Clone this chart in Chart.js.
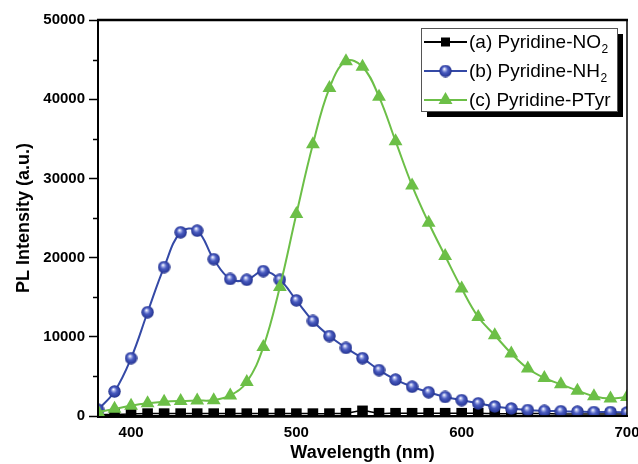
<!DOCTYPE html>
<html>
<head>
<meta charset="utf-8">
<script src="https://cdn.jsdelivr.net/npm/chart.js@4"></script>
<style>
  html, body { margin: 0; padding: 0; background: #fff; }
  #wrap { width: 638px; height: 464px; position: relative; }
</style>
</head>
<body>
<div id="wrap"><canvas id="c" width="638" height="464"></canvas></div>
<script>
// ---- data ----
const wavelengths = [380,390,400,410,420,430,440,450,460,470,480,490,500,510,520,530,540,550,560,570,580,590,600,610,620,630,640,650,660,670,680,690,700];
const pyridineNO2 = [150,200,250,300,300,300,300,300,300,300,300,300,300,300,300,350,650,350,350,350,350,350,350,350,300,300,300,300,250,250,250,250,250];
const pyridineNH2 = [800,3100,7300,13100,18800,23200,23400,19800,17300,17200,18300,17200,14600,12000,10100,8600,7300,5800,4600,3700,3000,2400,2000,1600,1200,950,750,650,600,550,500,500,450];
const pyridinePTyr = [500,900,1300,1600,1800,1900,1950,2000,2600,4300,8700,16300,25500,34300,41400,44800,44100,40300,34700,29100,24400,20200,16100,12500,10200,7900,6000,4800,4000,3200,2500,2200,2400];
const xTickValues = [400,500,600,700];
const yTickValues = [0,10000,20000,30000,40000,50000];
const yMinorValues = [5000,15000,25000,35000,45000];
const legendMain = ['(a) Pyridine-NO', '(b) Pyridine-NH', '(c) Pyridine-PTyr'];
const legendSub = ['2', '2', ''];
const xTitle = 'Wavelength (nm)';
const yTitle = 'PL Intensity (a.u.)';

const FONT = "'Liberation Sans', Arial, sans-serif";
const BLUE = '#3449a6';
const GREEN = '#6cbf47';

function toPoints(ys) { return wavelengths.map((w, i) => ({x: w, y: ys[i]})); }

// shaded sphere marker
function makeSphere(d) {
  const c = document.createElement('canvas');
  c.width = d; c.height = d;
  const g = c.getContext('2d');
  const r = d / 2;
  const grad = g.createRadialGradient(r - 1.2, r - 2.2, 0.3, r, r, r);
  grad.addColorStop(0, '#ffffff');
  grad.addColorStop(0.18, '#aab4ea');
  grad.addColorStop(0.45, '#4a5cc0');
  grad.addColorStop(0.85, '#2b3b9c');
  grad.addColorStop(1, '#1f2c80');
  g.fillStyle = grad;
  g.beginPath(); g.arc(r, r, r - 0.3, 0, Math.PI * 2); g.fill();
  return c;
}
const sphere = makeSphere(13);

const framePlugin = {
  id: 'frame',
  afterDatasetsDraw(chart) {
    const {ctx, chartArea: a} = chart;
    ctx.save();
    ctx.strokeStyle = '#000';
    ctx.lineWidth = 2.5;
    ctx.beginPath(); ctx.moveTo(a.left - 1, a.top); ctx.lineTo(a.right + 1, a.top); ctx.stroke();
    ctx.lineWidth = 2;
    ctx.beginPath(); ctx.moveTo(a.left, a.top); ctx.lineTo(a.left, a.bottom + 1); ctx.lineTo(a.right + 1, a.bottom); ctx.stroke();
    ctx.lineWidth = 1.5;
    ctx.beginPath(); ctx.moveTo(a.right, a.top); ctx.lineTo(a.right, a.bottom); ctx.stroke();
    // minor y ticks
    const ys = chart.scales.y;
    ctx.lineWidth = 1.5;
    yMinorValues.forEach(v => {
      const py = Math.round(ys.getPixelForValue(v)) + 0.5;
      ctx.beginPath(); ctx.moveTo(a.left - 5, py); ctx.lineTo(a.left, py); ctx.stroke();
    });
    ctx.restore();
  }
};

const legendPlugin = {
  id: 'customLegend',
  afterDraw(chart) {
    const {ctx} = chart;
    const L = 421, T = 28, W = 196, H = 83;
    ctx.save();
    ctx.fillStyle = '#000';
    ctx.fillRect(L + 6, T + 6, W, H);
    ctx.fillStyle = '#fff';
    ctx.fillRect(L, T, W, H);
    ctx.strokeStyle = '#555';
    ctx.lineWidth = 1;
    ctx.strokeRect(L + 0.5, T + 0.5, W, H);
    const rows = [42, 71, 100];
    const colors = ['#000', BLUE, GREEN];
    rows.forEach((ry, i) => {
      ctx.strokeStyle = colors[i];
      ctx.lineWidth = 2;
      ctx.beginPath(); ctx.moveTo(424, ry); ctx.lineTo(467, ry); ctx.stroke();
      const mx = 445.5;
      if (i === 0) {
        ctx.fillStyle = '#000';
        ctx.fillRect(mx - 4.5, ry - 4.5, 9, 9);
      } else if (i === 1) {
        ctx.drawImage(sphere, mx - 6.5, ry - 6.5);
      } else {
        ctx.fillStyle = GREEN;
        ctx.beginPath();
        ctx.moveTo(mx, ry - 8); ctx.lineTo(mx + 7, ry + 4); ctx.lineTo(mx - 7, ry + 4); ctx.closePath();
        ctx.fill();
      }
      ctx.fillStyle = '#000';
      ctx.font = '19px ' + FONT;
      ctx.textBaseline = 'middle';
      ctx.textAlign = 'left';
      ctx.fillText(legendMain[i], 469, ry + 1);
      const w = ctx.measureText(legendMain[i]).width;
      if (legendSub[i]) {
        ctx.font = '12px ' + FONT;
        ctx.fillText(legendSub[i], 469 + w + 0.5, ry + 8);
      }
    });
    ctx.restore();
  }
};

new Chart(document.getElementById('c'), {
  type: 'line',
  data: {
    datasets: [
      {
        label: legendMain[0] + legendSub[0],
        data: toPoints(pyridineNO2),
        borderColor: '#000', backgroundColor: '#000',
        borderWidth: 1.5,
        pointStyle: 'rect', pointRadius: 7.5, pointBorderWidth: 0,
        pointBackgroundColor: '#000',
        tension: 0.4, order: 2
      },
      {
        label: legendMain[1] + legendSub[1],
        data: toPoints(pyridineNH2),
        borderColor: BLUE, backgroundColor: BLUE,
        borderWidth: 2,
        pointStyle: sphere, pointRadius: 6.5,
        tension: 0.4, order: 1
      },
      {
        label: legendMain[2] + legendSub[2],
        data: toPoints(pyridinePTyr),
        borderColor: GREEN, backgroundColor: GREEN,
        borderWidth: 2,
        pointStyle: 'triangle', pointRadius: 8, pointBorderWidth: 0,
        pointBackgroundColor: GREEN,
        tension: 0.4, order: 0
      }
    ]
  },
  options: {
    responsive: false,
    animation: false,
    devicePixelRatio: 1,
    layout: { padding: { top: 20, right: 11, left: 0, bottom: 0 } },
    plugins: { legend: { display: false }, tooltip: { enabled: false } },
    scales: {
      x: {
        type: 'linear', min: 380, max: 700,
        afterBuildTicks(s) { s.ticks = xTickValues.map(v => ({value: v})); },
        afterFit(s) { s.height = 48; s.paddingLeft = 0; s.paddingRight = 0; },
        grid: { display: true, drawOnChartArea: false, drawTicks: false },
        border: { display: true, color: '#000', width: 2 },
        ticks: { color: '#000', padding: 8, maxRotation: 0, font: { family: FONT, size: 15, weight: 'bold' } },
        title: { display: true, text: xTitle, color: '#000', padding: { top: 0, bottom: 0 }, font: { family: FONT, size: 18, weight: 'bold', lineHeight: 1.2 } }
      },
      y: {
        type: 'linear', min: 0, max: 50000,
        afterBuildTicks(s) { s.ticks = yTickValues.map(v => ({value: v})); },
        afterFit(s) { s.width = 98; s.paddingTop = 0; s.paddingBottom = 0; },
        grid: { display: true, drawOnChartArea: false, drawTicks: true, tickLength: 9, tickWidth: 1.5, tickColor: '#000' },
        border: { display: true, color: '#000', width: 2 },
        ticks: { color: '#000', padding: 4, font: { family: FONT, size: 15, weight: 'bold' }, callback: v => String(v) },
        title: { display: true, text: yTitle, color: '#000', padding: { top: 13, bottom: 0 }, font: { family: FONT, size: 18, weight: 'bold', lineHeight: 1.2 } }
      }
    }
  },
  plugins: [framePlugin, legendPlugin]
});
</script>
</body>
</html>
